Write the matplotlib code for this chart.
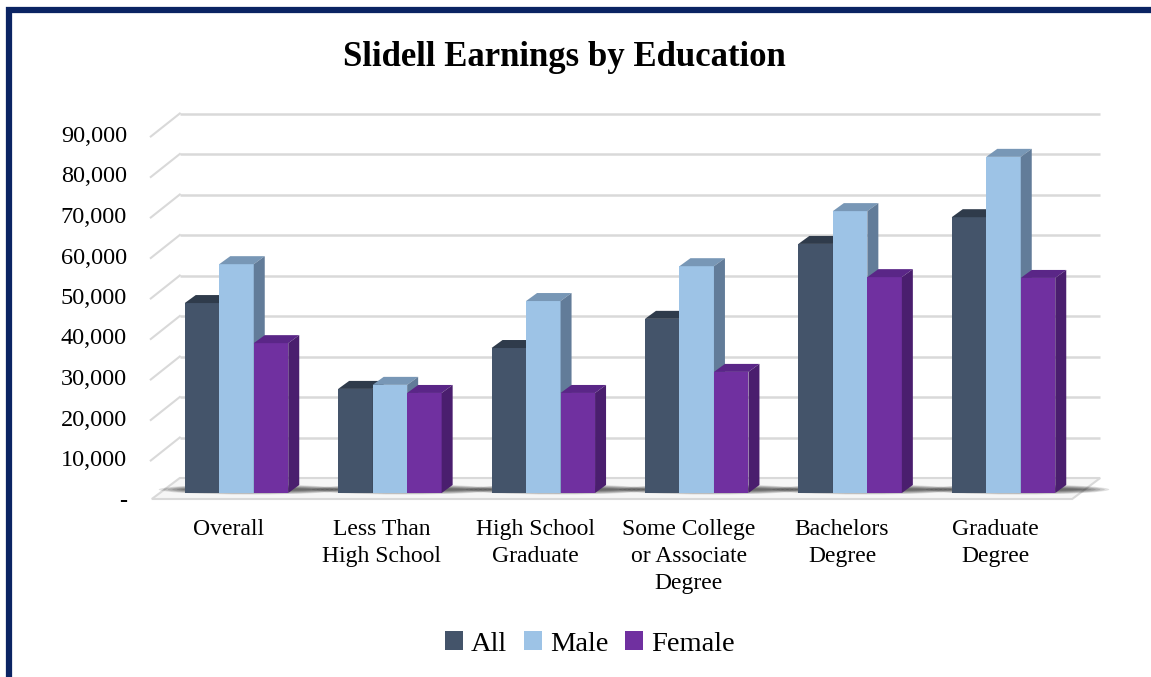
import matplotlib
matplotlib.use("Agg")
import matplotlib.pyplot as plt
from matplotlib.patches import Polygon, Rectangle, Patch, Ellipse

# ---- data ----
categories = ["Overall", "Less Than\nHigh School", "High School\nGraduate",
              "Some College\nor Associate\nDegree", "Bachelors\nDegree", "Graduate\nDegree"]
series_names = ["All", "Male", "Female"]
all_vals = [46900, 25700, 35800, 43000, 61500, 68100]
male_vals = [56500, 26700, 47400, 56000, 69600, 83000]
female_vals = [37000, 24700, 24700, 29900, 53300, 53100]
yticks = [0, 10000, 20000, 30000, 40000, 50000, 60000, 70000, 80000, 90000]
ytick_labels = ["-", "10,000", "20,000", "30,000", "40,000", "50,000", "60,000",
                "70,000", "80,000", "90,000"]
title = "Slidell Earnings by Education"

# ---- styles ----
front_cols = ["#44546a", "#9dc3e6", "#7030a0"]
top_cols = ["#2f3b4b", "#7897b6", "#5a2687"]
side_cols = ["#323f50", "#627c99", "#4a1e6e"]
grid_col = "#d9d9d9"
navy = "#0b2463"

W, H = 1151, 677
fig = plt.figure(figsize=(W / 100, H / 100), dpi=100)
ax = fig.add_axes([0, 0, 1, 1])

# pixel-scale helpers (the axes maps group index -> x, value -> y)
PX_PER_GROUP = 153.4
PX_PER_UNIT = 40.5 / 10000
X0_PX = 236.5       # pixel x of group 0 centre
BASE_PX = 493       # pixel y of value 0 on bar plane
ax.set_xlim((0 - X0_PX) / PX_PER_GROUP, (W - X0_PX) / PX_PER_GROUP)
ax.set_ylim((BASE_PX - H) / PX_PER_UNIT, (BASE_PX - 0) / PX_PER_UNIT)
ax.axis("off")


def dx(px):
    return px / PX_PER_GROUP


def dy(px):  # px upward
    return px / PX_PER_UNIT


font = "Liberation Serif"
n = len(categories)
xL, xR = -0.5, n - 0.5
back = (dx(20), dy(15))
front = (dx(-8), dy(-6))

# floor
floor = Polygon([(xL + front[0], front[1]), (xR + front[0], front[1]),
                 (xR + back[0], back[1]), (xL + back[0], back[1])],
                closed=True, facecolor="#f6f6f6", edgecolor=grid_col, lw=1.5, zorder=1)
ax.add_patch(floor)

# gridlines on back wall + stubs on left
for v in yticks[1:]:
    ax.plot([xL + back[0], xR + back[0]], [v + back[1], v + back[1]],
            color=grid_col, lw=1.8, zorder=1, solid_capstyle="butt")
    ax.plot([xL + back[0], xL + front[0] - dx(1)], [v + back[1], v + front[1] - dy(2)],
            color=grid_col, lw=1.5, zorder=1)

# tick labels
for v, lab in zip(yticks, ytick_labels):
    ax.text((127 - X0_PX) / PX_PER_GROUP, v + front[1] - dy(2), lab, ha="right", va="center",
            fontsize=17.5, family=font, color="black",
            fontweight="bold" if lab == "-" else "normal")

# bars
bw = 34.5 / PX_PER_GROUP
ddx, ddy = dx(11), dy(8)
series = [all_vals, male_vals, female_vals]

# shadows
for i in range(n):
    left = i - 1.5 * bw
    right = i + 1.5 * bw
    for k in range(7):
        e = Ellipse(((left + right) / 2 + dx(14), dy(3.5)), (right - left) + dx(80 - 9 * k),
                    dy(10 - 1.2 * k), facecolor="#1a1a1a", alpha=0.13, edgecolor="none", zorder=2)
        ax.add_patch(e)

for i in range(n):
    for s in range(3):
        v = series[s][i]
        left = i + (s - 1.5) * bw
        right = left + bw
        ax.add_patch(Rectangle((left, 0), bw, v, facecolor=front_cols[s], edgecolor="none", zorder=3))
        ax.add_patch(Polygon([(left, v), (right, v), (right + ddx, v + ddy), (left + ddx, v + ddy)],
                             closed=True, facecolor=top_cols[s], edgecolor="none", zorder=3))
        ax.add_patch(Polygon([(right, 0), (right + ddx, ddy), (right + ddx, v + ddy), (right, v)],
                             closed=True, facecolor=side_cols[s], edgecolor="none", zorder=3))

# category labels
for i, c in enumerate(categories):
    ax.text(i + front[0], dy(493 - 519), c, ha="center", va="top", fontsize=17,
            family=font, linespacing=1.38)

# title
fig.text(564 / W, 1 - 58 / H, title, ha="center", va="center", fontsize=25,
         fontweight="bold", family=font)

# legend
handles = [Patch(facecolor=front_cols[s], edgecolor="none", label=series_names[s]) for s in range(3)]
fig.legend(handles=handles, loc="center", bbox_to_anchor=(590 / W, 1 - 644 / H), ncol=3,
           frameon=False, prop={"family": font, "size": 20.5}, handlelength=0.62,
           handleheight=0.62, handletextpad=0.28, columnspacing=0.6)

# frame border
fig.patches.append(Rectangle((8.5 / W, -0.05), 1.2, 1 - 10 / H + 0.05, transform=fig.transFigure,
                             fill=False, edgecolor=navy, lw=4.5, zorder=10))

fig.savefig("out.png", dpi=100)
